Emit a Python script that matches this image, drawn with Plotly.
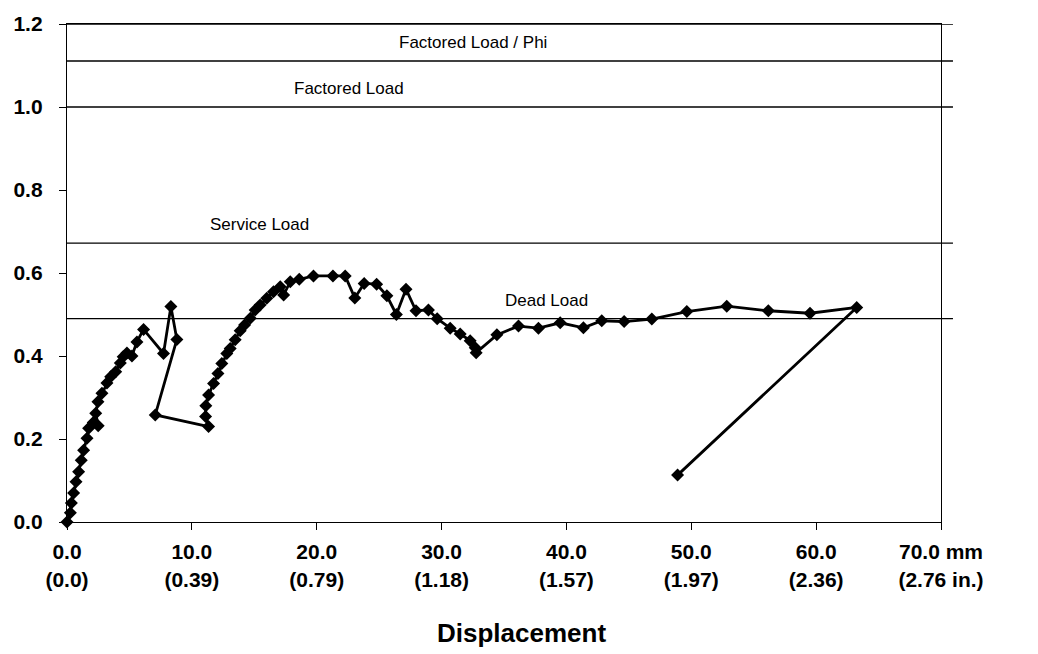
import plotly.graph_objects as go

# Load-displacement record (displacement in mm, normalised load)
displacement_mm = [
    0.0, 0.27, 0.35, 0.53, 0.72, 0.93, 1.14, 1.33, 1.6, 1.73, 2.1, 2.5, 2.3,
    2.48, 2.8, 3.2, 3.5, 3.9, 4.27, 4.5, 4.8, 5.2, 5.6, 6.13, 7.73, 8.32,
    8.8, 7.07, 11.34, 11.1, 11.12, 11.34, 11.74, 12.09, 12.4, 12.8, 13.07,
    13.47, 13.87, 14.22, 14.68, 15.07, 15.47, 16.0, 16.54, 17.08, 17.35,
    17.88, 18.6, 19.74, 21.3, 22.28, 23.05, 23.8, 24.8, 25.62, 26.38, 27.15,
    27.95, 28.95, 29.65, 30.69, 31.49, 32.29, 32.7, 32.77, 34.43, 36.16,
    37.76, 39.5, 41.36, 42.83, 44.62, 46.84, 49.64, 52.84, 56.17, 59.51,
    63.25, 48.9,
]
load = [
    0.0, 0.022, 0.046, 0.07, 0.097, 0.121, 0.149, 0.173, 0.202, 0.226, 0.24,
    0.232, 0.262, 0.29, 0.31, 0.335, 0.35, 0.362, 0.383, 0.398, 0.407, 0.4,
    0.434, 0.464, 0.406, 0.519, 0.44, 0.258, 0.23, 0.254, 0.28, 0.306,
    0.334, 0.358, 0.382, 0.406, 0.418, 0.439, 0.461, 0.475, 0.491, 0.511,
    0.523, 0.539, 0.555, 0.567, 0.547, 0.579, 0.585, 0.593, 0.593, 0.593,
    0.54, 0.575, 0.573, 0.545, 0.5, 0.561, 0.509, 0.511, 0.49, 0.467,
    0.453, 0.437, 0.42, 0.408, 0.451, 0.472, 0.467, 0.48, 0.468, 0.485,
    0.483, 0.489, 0.507, 0.52, 0.509, 0.503, 0.517, 0.113,
]

# Reference load levels
level_names = ["Factored Load / Phi", "Factored Load", "Service Load", "Dead Load"]
level_values = [1.111, 1.0, 0.672, 0.49]
level_label_x = [32.5, 22.6, 15.4, 38.4]

# Axis ticks
x_ticks = [0, 10, 20, 30, 40, 50, 60, 70]
x_tick_mm = ["0.0", "10.0", "20.0", "30.0", "40.0", "50.0", "60.0", "70.0 mm"]
x_tick_in = ["(0.0)", "(0.39)", "(0.79)", "(1.18)", "(1.57)", "(1.97)", "(2.36)", "(2.76 in.)"]
y_ticks = [0.0, 0.2, 0.4, 0.6, 0.8, 1.0, 1.2]

FONT = "Liberation Sans, Arial, sans-serif"

fig = go.Figure()
fig.add_trace(go.Scatter(
    x=displacement_mm, y=load, mode="lines+markers",
    line=dict(color="black", width=2.8),
    marker=dict(symbol="diamond", size=10, color="black"),
    cliponaxis=False, showlegend=False,
))

shapes = []
annotations = []
for name, val, lx in zip(level_names, level_values, level_label_x):
    shapes.append(dict(type="line", xref="paper", yref="y", x0=0, x1=1.0137,
                       y0=val, y1=val, line=dict(color="black", width=1.4)))
    annotations.append(dict(x=lx, y=val, xref="x", yref="y", text=name,
                            showarrow=False, yanchor="bottom", yshift=7,
                            font=dict(family=FONT, size=17, color="black")))
shapes.append(dict(type="line", xref="paper", yref="y", x0=0, x1=1.0137,
                   y0=1.2, y1=1.2, line=dict(color="black", width=1.4)))

# Axis title, centred under the scale labels
annotations.append(dict(x=0.52, y=-0.222, xref="paper", yref="paper",
                        text="<b>Displacement</b>", showarrow=False,
                        xanchor="center", yanchor="middle",
                        font=dict(family=FONT, size=26, color="black")))

fig.update_layout(
    width=1038, height=654,
    margin=dict(l=67, r=97, t=24, b=132),
    paper_bgcolor="white", plot_bgcolor="white",
    font=dict(family=FONT, color="black"),
    shapes=shapes, annotations=annotations,
    xaxis=dict(
        range=[0, 70], tickmode="array", tickvals=x_ticks,
        ticktext=[f"<b>{a}</b><br><b>{b}</b>" for a, b in zip(x_tick_mm, x_tick_in)],
        tickfont=dict(family=FONT, size=21, color="black"),
        ticks="outside", ticklen=7, tickwidth=1, tickcolor="black",
        showline=True, linecolor="black", linewidth=1.4, mirror=True,
        showgrid=False, zeroline=False, ticklabelstandoff=4,
    ),
    yaxis=dict(
        range=[0, 1.2], tickmode="array", tickvals=y_ticks,
        ticktext=[f"<b>{v:.1f}</b>" for v in y_ticks],
        tickfont=dict(family=FONT, size=21, color="black"),
        ticks="outside", ticklen=7, tickwidth=1, tickcolor="black",
        showline=True, linecolor="black", linewidth=1.4, mirror=True,
        showgrid=False, zeroline=False, ticklabelstandoff=12,
    ),
)

fig.write_html("out.html")
